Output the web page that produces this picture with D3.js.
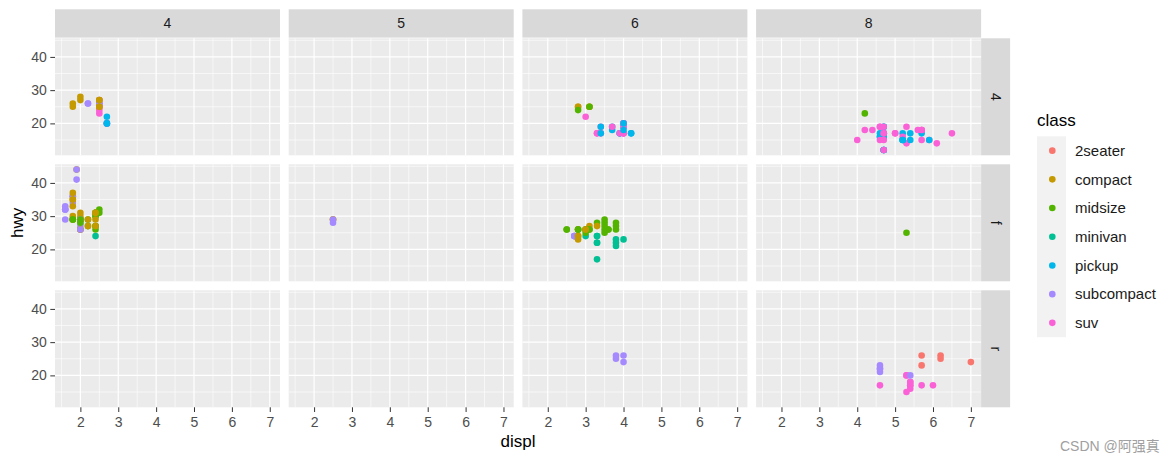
<!DOCTYPE html>
<html><head><meta charset="utf-8">
<script src="https://cdn.jsdelivr.net/npm/d3@7"></script>
<style>body{margin:0;background:#fff;} svg{display:block;font-family:"Liberation Sans",Arial,sans-serif;}</style>
</head><body><svg id="c" width="1175" height="463"></svg>
<script>
// ---- data (ggplot2 mpg: displ, hwy, cyl, drv, class) ----
const classes = ["2seater","compact","midsize","minivan","pickup","subcompact","suv"];
const classColors = ["#F8766D","#C49A00","#53B400","#00C094","#00B6EB","#A58AFF","#FB61D7"];
const cylLevels = [4,5,6,8];
const drvLevels = ["4","f","r"];
const xTickValues = [2,3,4,5,6,7];
const yTickValues = [20,30,40];

const displ = [
 1.8,1.8,2.0,2.0,2.8,2.8,3.1,
 1.8,1.8,2.0,2.0,2.8,2.8,3.1,3.1,
 2.8,3.1,4.2,
 5.3,5.3,5.3,5.7,6.0,
 5.7,5.7,6.2,6.2,7.0,
 5.3,5.3,5.7,6.5,
 2.4,2.4,3.1,3.5,3.6,
 2.4,3.0,3.3,3.3,3.3,3.3,3.3,3.8,3.8,3.8,4.0,
 3.7,3.7,3.9,3.9,4.7,4.7,4.7,5.2,5.2,
 3.9,4.7,4.7,4.7,5.2,5.7,5.9,
 4.7,4.7,4.7,4.7,4.7,4.7,5.2,5.2,5.7,5.9,
 4.6,5.4,5.4,
 4.0,4.0,4.0,4.0,4.6,5.0,
 4.2,4.2,4.6,4.6,4.6,5.4,5.4,
 3.8,3.8,4.0,4.0,4.6,4.6,4.6,4.6,5.4,
 1.6,1.6,1.6,1.6,1.6,1.8,1.8,1.8,2.0,
 2.4,2.4,2.4,2.4,2.5,2.5,3.3,
 2.0,2.0,2.0,2.0,2.7,2.7,2.7,
 3.0,3.7,4.0,4.7,4.7,4.7,5.7,6.1,
 4.0,4.2,4.4,4.6,
 5.4,5.4,5.4,
 4.0,4.0,4.6,5.0,
 2.4,2.4,2.5,2.5,3.5,3.5,
 3.0,3.0,3.5,
 3.3,3.3,4.0,5.6,
 3.1,3.8,3.8,3.8,5.3,
 2.5,2.5,2.5,2.5,2.5,2.5,
 2.2,2.2,2.5,2.5,2.5,2.5,2.5,2.5,
 2.7,2.7,3.4,3.4,4.0,4.7,
 2.2,2.2,2.4,2.4,3.0,3.0,3.5,
 2.2,2.2,2.4,2.4,3.0,3.0,3.3,
 1.8,1.8,1.8,1.8,1.8,
 4.7,5.7,
 2.7,2.7,2.7,3.4,3.4,4.0,4.0,
 2.0,2.0,2.0,2.0,2.8,
 1.9,2.0,2.0,2.0,2.0,2.5,2.5,2.8,2.8,
 1.9,1.9,2.0,2.0,2.5,2.5,
 1.8,1.8,2.0,2.0,2.8,2.8,3.6
];
const hwy = [
 29,29,31,30,26,26,27,
 26,25,28,27,25,25,25,25,
 24,25,23,
 20,15,20,17,17,
 26,23,26,25,24,
 19,14,15,17,
 27,30,26,29,26,
 24,24,22,22,24,24,17,22,21,23,23,
 19,18,17,17,19,19,12,17,15,
 17,17,12,17,16,18,15,
 16,12,17,17,16,12,15,15,17,15,
 17,17,18,
 17,19,17,19,19,17,
 17,17,16,16,17,15,17,
 26,25,26,24,21,22,23,22,20,
 33,32,32,29,32,34,36,36,29,
 26,27,30,31,26,26,28,
 26,29,28,27,24,24,24,
 22,19,20,17,12,19,18,14,
 15,18,18,15,
 17,16,18,
 17,19,19,17,
 29,27,31,32,27,26,
 26,25,25,
 17,17,20,18,
 26,26,27,28,25,
 25,24,27,25,26,23,
 26,26,26,26,25,27,25,27,
 20,20,19,17,20,17,
 29,27,31,31,26,26,28,
 27,29,31,31,26,26,27,
 30,33,35,37,35,
 15,18,
 20,20,22,17,19,18,20,
 29,26,29,29,24,
 44,29,26,29,29,29,29,23,24,
 44,41,29,26,28,29,
 29,29,28,29,26,26,26
];
const cyl = [
 4,4,4,4,6,6,6,
 4,4,4,4,6,6,6,6,
 6,6,8,
 8,8,8,8,8,
 8,8,8,8,8,
 8,8,8,8,
 4,4,6,6,6,
 4,6,6,6,6,6,6,6,6,6,6,
 6,6,6,6,8,8,8,8,8,
 6,8,8,8,8,8,8,
 8,8,8,8,8,8,8,8,8,8,
 8,8,8,
 6,6,6,6,8,8,
 6,6,8,8,8,8,8,
 6,6,6,6,8,8,8,8,8,
 4,4,4,4,4,4,4,4,4,
 4,4,4,4,6,6,6,
 4,4,4,4,6,6,6,
 6,6,6,8,8,8,8,8,
 8,8,8,8,
 8,8,8,
 6,6,8,8,
 4,4,4,4,6,6,
 6,6,6,
 6,6,6,8,
 6,6,6,6,8,
 4,4,4,4,4,4,
 4,4,4,4,4,4,4,4,
 4,4,6,6,6,8,
 4,4,4,4,6,6,6,
 4,4,4,4,6,6,6,
 4,4,4,4,4,
 8,8,
 4,4,4,6,6,6,6,
 4,4,4,4,6,
 4,4,4,4,4,5,5,6,6,
 4,4,4,4,5,5,
 4,4,4,4,6,6,6
];
const drv = [
 "f","f","f","f","f","f","f",
 "4","4","4","4","4","4","4","4",
 "4","4","4",
 "r","r","r","r","r",
 "r","r","r","r","r",
 "4","4","4","4",
 "f","f","f","f","f",
 "f","f","f","f","f","f","f","f","f","f","f",
 "4","4","4","4","4","4","4","4","4",
 "4","4","4","4","4","4","4",
 "4","4","4","4","4","4","4","4","4","4",
 "r","r","r",
 "4","4","4","4","4","4",
 "4","4","4","4","4","4","4",
 "r","r","r","r","r","r","r","r","r",
 "f","f","f","f","f","f","f","f","f",
 "f","f","f","f","f","f","f",
 "f","f","f","f","f","f","f",
 "4","4","4","4","4","4","4","4",
 "4","4","4","4",
 "r","r","r",
 "4","4","4","4",
 "f","f","f","f","f","f",
 "f","f","f",
 "4","4","4","4",
 "f","f","f","f","f",
 "4","4","4","4","4","4",
 "4","4","4","4","4","4","4","4",
 "4","4","4","4","4","4",
 "f","f","f","f","f","f","f",
 "f","f","f","f","f","f","f",
 "f","f","f","f","f",
 "4","4",
 "4","4","4","4","4","4","4",
 "f","f","f","f","f",
 "f","f","f","f","f","f","f","f","f",
 "f","f","f","f","f","f",
 "f","f","f","f","f","f","f"
];
const carClass = [
 1,1,1,1,1,1,1,
 1,1,1,1,1,1,1,1,
 2,2,2,
 6,6,6,6,6,
 0,0,0,0,0,
 6,6,6,6,
 2,2,2,2,2,
 3,3,3,3,3,3,3,3,3,3,3,
 4,4,4,4,4,4,4,4,4,
 6,6,6,6,6,6,6,
 4,4,4,4,4,4,4,4,4,4,
 6,6,6,
 6,6,6,6,6,6,
 4,4,4,4,4,4,4,
 5,5,5,5,5,5,5,5,5,
 5,5,5,5,5,5,5,5,5,
 2,2,2,2,2,2,2,
 5,5,5,5,5,5,5,
 6,6,6,6,6,6,6,6,
 6,6,6,6,
 6,6,6,
 6,6,6,6,
 1,1,2,2,2,2,
 2,2,2,
 6,6,6,6,
 2,2,2,2,2,
 6,6,6,6,6,6,
 5,5,5,5,1,1,1,1,
 6,6,6,6,6,6,
 2,2,2,2,2,2,2,
 1,1,1,1,1,1,1,
 1,1,1,1,1,
 6,6,
 4,4,4,4,4,4,4,
 1,1,1,1,1,
 1,1,1,1,1,1,1,1,1,
 5,5,5,5,5,5,
 2,2,2,2,2,2,2
];

// ---- build rows ----
const rows = displ.map((d, i) => ({displ: d, hwy: hwy[i], cyl: cyl[i], drv: drv[i], cls: carClass[i]}));

// ---- layout ----
const svg = d3.select("#c");
const P = {left: 55, top: 38.3, w: 225, h: 117, gx: 8.7, gy: 9, stripH: 28.3, stripW: 29};
const ink = "#1A1A1A", tickInk = "#4D4D4D";

const xExt = d3.extent(displ), xPad = (xExt[1]-xExt[0])*0.05;
const yExt = d3.extent(hwy), yPad = (yExt[1]-yExt[0])*0.05;
const x = d3.scaleLinear().domain([xExt[0]-xPad, xExt[1]+xPad]).range([0, P.w]);
const y = d3.scaleLinear().domain([yExt[0]-yPad, yExt[1]+yPad]).range([P.h, 0]);
const color = d3.scaleOrdinal().domain(d3.range(classes.length)).range(classColors);

function minorOf(ticks, dom) {
  const step = ticks[1]-ticks[0];
  const out = [];
  for (let v = ticks[0]-step/2; v <= ticks[ticks.length-1]+step/2 + 1e-9; v += step) {
    if (v >= dom[0] && v <= dom[1]) out.push(v);
  }
  return out;
}
const xMinor = minorOf(xTickValues, x.domain());
const yMinor = minorOf(yTickValues, y.domain());

const nC = cylLevels.length, nR = drvLevels.length;
const rightEdge = P.left + nC*P.w + (nC-1)*P.gx;
const bottomEdge = P.top + nR*P.h + (nR-1)*P.gy;

// column strips
cylLevels.forEach((c, ci) => {
  const px = P.left + ci*(P.w+P.gx);
  svg.append("rect").attr("x", px).attr("y", P.top - 0.7 - P.stripH).attr("width", P.w).attr("height", P.stripH).attr("fill", "#D9D9D9");
  svg.append("text").attr("x", px + P.w/2).attr("y", P.top - 0.7 - P.stripH/2).attr("dy", "0.35em")
    .attr("text-anchor", "middle").attr("font-size", 14).attr("fill", ink).text(c);
});
// row strips
drvLevels.forEach((d, ri) => {
  const py = P.top + ri*(P.h+P.gy);
  svg.append("rect").attr("x", rightEdge).attr("y", py).attr("width", P.stripW).attr("height", P.h).attr("fill", "#D9D9D9");
  const cx = rightEdge + P.stripW/2, cy = py + P.h/2;
  svg.append("text").attr("transform", `translate(${cx},${cy}) rotate(90)`).attr("dy", "0.35em")
    .attr("text-anchor", "middle").attr("font-size", 14).attr("fill", ink).text(d);
});

// panels
drvLevels.forEach((d, ri) => {
  cylLevels.forEach((c, ci) => {
    const px = P.left + ci*(P.w+P.gx), py = P.top + ri*(P.h+P.gy);
    const g = svg.append("g").attr("transform", `translate(${px},${py})`);
    g.append("rect").attr("width", P.w).attr("height", P.h).attr("fill", "#EBEBEB");
    g.selectAll(".xmin").data(xMinor).join("line").attr("x1", v => x(v)).attr("x2", v => x(v)).attr("y1", 0).attr("y2", P.h).attr("stroke", "#fff").attr("stroke-width", 0.6);
    g.selectAll(".ymin").data(yMinor).join("line").attr("y1", v => y(v)).attr("y2", v => y(v)).attr("x1", 0).attr("x2", P.w).attr("stroke", "#fff").attr("stroke-width", 0.6);
    g.selectAll(".xmaj").data(xTickValues).join("line").attr("x1", v => x(v)).attr("x2", v => x(v)).attr("y1", 0).attr("y2", P.h).attr("stroke", "#fff").attr("stroke-width", 1.2);
    g.selectAll(".ymaj").data(yTickValues).join("line").attr("y1", v => y(v)).attr("y2", v => y(v)).attr("x1", 0).attr("x2", P.w).attr("stroke", "#fff").attr("stroke-width", 1.2);
    const sub = rows.filter(r => r.cyl === c && r.drv === d);
    g.selectAll("circle").data(sub).join("circle")
      .attr("cx", r => x(r.displ)).attr("cy", r => y(r.hwy)).attr("r", 3.3).attr("fill", r => color(r.cls));

    if (ci === 0) {
      const ax = g.append("g").call(d3.axisLeft(y).tickValues(yTickValues).tickFormat(d3.format("d")).tickSize(4.7).tickPadding(3.6));
      ax.select(".domain").remove();
      ax.selectAll("line").attr("stroke", "#333333").attr("stroke-width", 1);
      ax.selectAll("text").attr("font-size", 14).attr("fill", tickInk).attr("font-family", null);
    }
    if (ri === nR-1) {
      const ax = g.append("g").attr("transform", `translate(0,${P.h})`).call(d3.axisBottom(x).tickValues(xTickValues).tickFormat(d3.format("d")).tickSize(4.7).tickPadding(5.5));
      ax.select(".domain").remove();
      ax.selectAll("line").attr("stroke", "#333333").attr("stroke-width", 1);
      ax.selectAll("text").attr("font-size", 14).attr("fill", tickInk).attr("font-family", null);
    }
  });
});

// axis titles
svg.append("text").attr("x", (P.left + rightEdge)/2).attr("y", 447).attr("text-anchor", "middle")
  .attr("font-size", 17).attr("fill", "#000").text("displ");
svg.append("text").attr("transform", `translate(23,${(P.top+bottomEdge)/2}) rotate(-90)`).attr("text-anchor", "middle")
  .attr("font-size", 17).attr("fill", "#000").text("hwy");

// legend
const lg = svg.append("g").attr("transform", "translate(1037,0)");
lg.append("text").attr("x", 0).attr("y", 126).attr("font-size", 17).attr("fill", "#000").text("class");
const keyH = 28.7, keyTop = 136.3;
lg.append("rect").attr("x", 0).attr("y", keyTop).attr("width", 29).attr("height", keyH*classes.length).attr("fill", "#F2F2F2");
const items = lg.selectAll(".item").data(classes).join("g").attr("transform", (c, i) => `translate(0,${keyTop + keyH*i + keyH/2})`);
items.append("circle").attr("cx", 15.3).attr("cy", 0).attr("r", 3.3).attr("fill", (c, i) => color(i));
items.append("text").attr("x", 38).attr("dy", "0.35em").attr("font-size", 15).attr("fill", ink).text(c => c);

// watermark
svg.append("text").attr("x", 1060).attr("y", 451).attr("font-size", 14).attr("fill", "#A0A0A0")
  .attr("font-family", "'Liberation Sans','Noto Sans CJK SC',sans-serif").text("CSDN @阿强真");
</script></body></html>
